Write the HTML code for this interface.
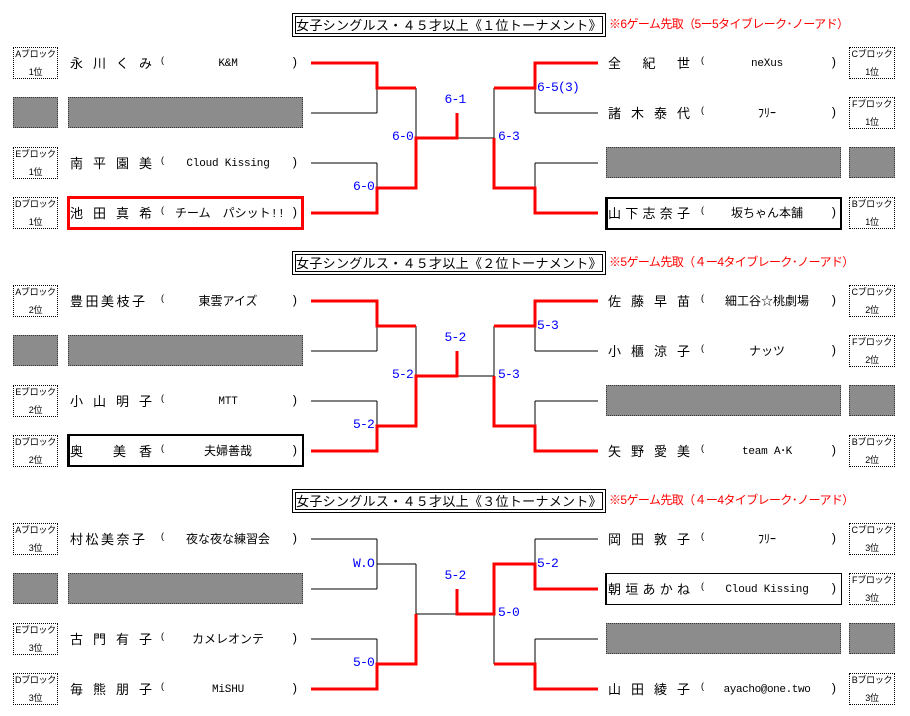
<!DOCTYPE html>
<html><head><meta charset="utf-8">
<style>
*{box-sizing:border-box;margin:0;padding:0}
html,body{width:910px;height:716px;background:#fff;overflow:hidden}
body{position:relative;font-family:"Liberation Sans","Noto Sans CJK JP",sans-serif;color:#000}
.sec{position:absolute;left:0;width:910px;height:240px}
.sec svg{position:absolute;left:0;top:0;overflow:visible}
.title{position:absolute;left:292px;top:13px;width:314px;height:24px;border:1px solid #000;box-shadow:inset 0 0 0 2px #fff,inset 0 0 0 3px #000;text-align:center;font-size:13px;line-height:22px;letter-spacing:0.3px;font-family:"Noto Sans CJK JP",sans-serif;white-space:nowrap}
.note{position:absolute;left:609px;top:16px;font-size:12px;line-height:16px;color:#ff0000;letter-spacing:-0.6px;white-space:nowrap;font-family:"Liberation Sans","Noto Sans CJK JP",sans-serif}
.bl{position:absolute;width:45px;height:32px;border:1px dotted #000;font-size:9px;text-align:center;white-space:nowrap;letter-spacing:-0.3px}
.bl span{display:block;height:18px;line-height:18px}
.bl span:first-child{margin-top:-3px}
.gy{position:absolute;background:#8c8c8c;border:1px dotted #333;height:31px}
.nm{position:absolute;display:flex;justify-content:space-between;height:16px;line-height:16px;font-size:13px;font-family:"Noto Sans CJK JP",sans-serif}
.L{left:70px;width:82px}
.L5{left:70px;width:75px}
.R{left:608px;width:82px}
.tm{position:absolute;text-align:center;height:16px;line-height:16px;margin-top:1px;font-size:12px;white-space:nowrap;font-family:"Liberation Mono","Noto Sans CJK JP",monospace}
.TL{left:165px;width:126px}
.TR{left:705px;width:124px}
.lat{font-size:11px;letter-spacing:-0.2px}
.po,.pc{position:absolute;height:16px;line-height:16px;font-family:"Liberation Mono",monospace}
.po{font-size:9px;margin-top:-2px}
.pc{font-size:12px}
.sc{position:absolute;color:#0000ff;font-family:"Liberation Mono",monospace;font-size:13px;letter-spacing:-0.8px;line-height:14px;height:14px;white-space:nowrap}
.ctr{width:60px;text-align:center}
.bx{position:absolute}
</style></head><body>

<!-- ============ SECTION 1 ============ -->
<div class="sec" style="top:0px">
<svg width="910" height="240" viewBox="0 0 910 240">
<path d="M311 63H377M311 113H377M311 163H377M311 213H377M377 63V113M377 163V213M377 88H416M377 188H416M416 88V188M416 138H494M494 88V188M494 88H535M494 188H535M535 63V113M535 163V213M535 63H598M535 113H598M535 163H598M535 213H598" stroke="#000" stroke-width="1" fill="none" shape-rendering="crispEdges"/>
<path d="M311 63H377V88H416M311 213H377V188H416V138H457V113M598 63H535V88H494M598 213H535V188H494V138" stroke="#ff0000" stroke-width="3" fill="none" shape-rendering="crispEdges"/>
</svg>
<div class="title">女子シングルス・４５才以上《１位トーナメント》</div>
<div class="note">※6ゲーム先取（5ー5タイブレーク･ノーアド）</div>

<div class="bl" style="left:13px;top:47px"><span>Aブロック</span><span>1位</span></div>
<div class="nm L" style="top:55px"><span>永</span><span>川</span><span>く</span><span>み</span></div>
<div class="po" style="left:160px;top:55px">(</div>
<div class="tm TL lat" style="top:55px">K&amp;M</div>
<div class="pc" style="left:291px;top:55px">)</div>

<div class="gy" style="left:13px;top:97px;width:45px"></div>
<div class="gy" style="left:68px;top:97px;width:235px"></div>

<div class="bl" style="left:13px;top:147px"><span>Eブロック</span><span>1位</span></div>
<div class="nm L" style="top:155px"><span>南</span><span>平</span><span>園</span><span>美</span></div>
<div class="po" style="left:160px;top:155px">(</div>
<div class="tm TL lat" style="top:155px">Cloud Kissing</div>
<div class="pc" style="left:291px;top:155px">)</div>

<div class="bl" style="left:13px;top:197px"><span>Dブロック</span><span>1位</span></div>
<div class="bx" style="left:67px;top:196px;width:237px;height:34px;border:3px solid #ff0000"></div>
<div class="nm L" style="top:205px"><span>池</span><span>田</span><span>真</span><span>希</span></div>
<div class="po" style="left:160px;top:205px">(</div>
<div class="tm" style="left:170px;width:120px;top:205px">チーム　パシット!!</div>
<div class="pc" style="left:291px;top:205px">)</div>

<div class="nm R" style="top:55px"><span>全</span><span>紀</span><span>世</span></div>
<div class="po" style="left:700px;top:55px">(</div>
<div class="tm TR lat" style="top:55px">neXus</div>
<div class="pc" style="left:830px;top:55px">)</div>
<div class="bl" style="left:849px;top:47px;width:46px"><span>Cブロック</span><span>1位</span></div>

<div class="nm R" style="top:105px"><span>諸</span><span>木</span><span>泰</span><span>代</span></div>
<div class="po" style="left:700px;top:105px">(</div>
<div class="tm TR" style="top:105px">ﾌﾘｰ</div>
<div class="pc" style="left:830px;top:105px">)</div>
<div class="bl" style="left:849px;top:97px;width:46px"><span>Fブロック</span><span>1位</span></div>

<div class="gy" style="left:606px;top:147px;width:235px"></div>
<div class="gy" style="left:849px;top:147px;width:46px"></div>

<div class="bx" style="left:605px;top:197px;width:237px;height:33px;border:2px solid #000;border-left-width:3px"></div>
<div class="nm R" style="top:205px"><span>山</span><span>下</span><span>志</span><span>奈</span><span>子</span></div>
<div class="po" style="left:700px;top:205px">(</div>
<div class="tm TR" style="top:205px">坂ちゃん本舗</div>
<div class="pc" style="left:830px;top:205px">)</div>
<div class="bl" style="left:849px;top:197px;width:46px"><span>Bブロック</span><span>1位</span></div>

<div class="sc ctr" style="left:425px;top:93px">6-1</div>
<div class="sc" style="right:497px;top:130px">6-0</div>
<div class="sc" style="right:536px;top:180px">6-0</div>
<div class="sc" style="left:537px;top:81px">6-5(3)</div>
<div class="sc" style="left:498px;top:130px">6-3</div>
</div>

<!-- ============ SECTION 2 ============ -->
<div class="sec" style="top:238px">
<svg width="910" height="240" viewBox="0 0 910 240">
<path d="M311 63H377M311 113H377M311 163H377M311 213H377M377 63V113M377 163V213M377 88H416M377 188H416M416 88V188M416 138H494M494 88V188M494 88H535M494 188H535M535 63V113M535 163V213M535 63H598M535 113H598M535 163H598M535 213H598" stroke="#000" stroke-width="1" fill="none" shape-rendering="crispEdges"/>
<path d="M311 63H377V88H416M311 213H377V188H416V138H457V113M598 63H535V88H494M598 213H535V188H494V138" stroke="#ff0000" stroke-width="3" fill="none" shape-rendering="crispEdges"/>
</svg>
<div class="title">女子シングルス・４５才以上《２位トーナメント》</div>
<div class="note">※5ゲーム先取（４ー4タイブレーク･ノーアド）</div>

<div class="bl" style="left:13px;top:47px"><span>Aブロック</span><span>2位</span></div>
<div class="nm L5" style="top:55px"><span>豊</span><span>田</span><span>美</span><span>枝</span><span>子</span></div>
<div class="po" style="left:160px;top:55px">(</div>
<div class="tm TL" style="top:55px">東雲アイズ</div>
<div class="pc" style="left:291px;top:55px">)</div>

<div class="gy" style="left:13px;top:97px;width:45px"></div>
<div class="gy" style="left:68px;top:97px;width:235px"></div>

<div class="bl" style="left:13px;top:147px"><span>Eブロック</span><span>2位</span></div>
<div class="nm L" style="top:155px"><span>小</span><span>山</span><span>明</span><span>子</span></div>
<div class="po" style="left:160px;top:155px">(</div>
<div class="tm TL lat" style="top:155px">MTT</div>
<div class="pc" style="left:291px;top:155px">)</div>

<div class="bl" style="left:13px;top:197px"><span>Dブロック</span><span>2位</span></div>
<div class="bx" style="left:67px;top:196px;width:237px;height:33px;border:2px solid #000;border-left-width:3px"></div>
<div class="nm L" style="top:205px"><span>奥</span><span style="margin-left:17px">美</span><span>香</span></div>
<div class="po" style="left:160px;top:205px">(</div>
<div class="tm TL" style="top:205px">夫婦善哉</div>
<div class="pc" style="left:291px;top:205px">)</div>

<div class="nm R" style="top:55px"><span>佐</span><span>藤</span><span>早</span><span>苗</span></div>
<div class="po" style="left:700px;top:55px">(</div>
<div class="tm TR" style="top:55px">細工谷☆桃劇場</div>
<div class="pc" style="left:830px;top:55px">)</div>
<div class="bl" style="left:849px;top:47px;width:46px"><span>Cブロック</span><span>2位</span></div>

<div class="nm R" style="top:105px"><span>小</span><span>櫃</span><span>涼</span><span>子</span></div>
<div class="po" style="left:700px;top:105px">(</div>
<div class="tm TR" style="top:105px">ナッツ</div>
<div class="pc" style="left:830px;top:105px">)</div>
<div class="bl" style="left:849px;top:97px;width:46px"><span>Fブロック</span><span>2位</span></div>

<div class="gy" style="left:606px;top:147px;width:235px"></div>
<div class="gy" style="left:849px;top:147px;width:46px"></div>

<div class="nm R" style="top:205px"><span>矢</span><span>野</span><span>愛</span><span>美</span></div>
<div class="po" style="left:700px;top:205px">(</div>
<div class="tm TR lat" style="top:205px">team A･K</div>
<div class="pc" style="left:830px;top:205px">)</div>
<div class="bl" style="left:849px;top:197px;width:46px"><span>Bブロック</span><span>2位</span></div>

<div class="sc ctr" style="left:425px;top:93px">5-2</div>
<div class="sc" style="right:497px;top:130px">5-2</div>
<div class="sc" style="right:536px;top:180px">5-2</div>
<div class="sc" style="left:537px;top:81px">5-3</div>
<div class="sc" style="left:498px;top:130px">5-3</div>
</div>

<!-- ============ SECTION 3 ============ -->
<div class="sec" style="top:476px">
<svg width="910" height="240" viewBox="0 0 910 240">
<path d="M311 63H377M311 113H377M311 163H377M311 213H377M377 63V113M377 163V213M377 88H416M377 188H416M416 88V188M416 138H494M494 88V188M494 88H535M494 188H535M535 63V113M535 163V213M535 63H598M535 113H598M535 163H598M535 213H598" stroke="#000" stroke-width="1" fill="none" shape-rendering="crispEdges"/>
<path d="M311 213H377V188H416V138M457 113V138H494V88H535V113H598M598 213H535V188H494" stroke="#ff0000" stroke-width="3" fill="none" shape-rendering="crispEdges"/>
</svg>
<div class="title">女子シングルス・４５才以上《３位トーナメント》</div>
<div class="note">※5ゲーム先取（４ー4タイブレーク･ノーアド）</div>

<div class="bl" style="left:13px;top:47px"><span>Aブロック</span><span>3位</span></div>
<div class="nm L5" style="top:55px"><span>村</span><span>松</span><span>美</span><span>奈</span><span>子</span></div>
<div class="po" style="left:160px;top:55px">(</div>
<div class="tm TL" style="top:55px">夜な夜な練習会</div>
<div class="pc" style="left:291px;top:55px">)</div>

<div class="gy" style="left:13px;top:97px;width:45px"></div>
<div class="gy" style="left:68px;top:97px;width:235px"></div>

<div class="bl" style="left:13px;top:147px"><span>Eブロック</span><span>3位</span></div>
<div class="nm L" style="top:155px"><span>古</span><span>門</span><span>有</span><span>子</span></div>
<div class="po" style="left:160px;top:155px">(</div>
<div class="tm TL" style="top:155px">カメレオンテ</div>
<div class="pc" style="left:291px;top:155px">)</div>

<div class="bl" style="left:13px;top:197px"><span>Dブロック</span><span>3位</span></div>
<div class="nm L" style="top:205px"><span>毎</span><span>熊</span><span>朋</span><span>子</span></div>
<div class="po" style="left:160px;top:205px">(</div>
<div class="tm TL lat" style="top:205px">MiSHU</div>
<div class="pc" style="left:291px;top:205px">)</div>

<div class="nm R" style="top:55px"><span>岡</span><span>田</span><span>敦</span><span>子</span></div>
<div class="po" style="left:700px;top:55px">(</div>
<div class="tm TR" style="top:55px">ﾌﾘｰ</div>
<div class="pc" style="left:830px;top:55px">)</div>
<div class="bl" style="left:849px;top:47px;width:46px"><span>Cブロック</span><span>3位</span></div>

<div class="bx" style="left:605px;top:97px;width:237px;height:32px;border:1px solid #000;border-left-width:2px"></div>
<div class="nm R" style="top:105px"><span>朝</span><span>垣</span><span>あ</span><span>か</span><span>ね</span></div>
<div class="po" style="left:700px;top:105px">(</div>
<div class="tm TR lat" style="top:105px">Cloud Kissing</div>
<div class="pc" style="left:830px;top:105px">)</div>
<div class="bl" style="left:849px;top:97px;width:46px"><span>Fブロック</span><span>3位</span></div>

<div class="gy" style="left:606px;top:147px;width:235px"></div>
<div class="gy" style="left:849px;top:147px;width:46px"></div>

<div class="nm R" style="top:205px"><span>山</span><span>田</span><span>綾</span><span>子</span></div>
<div class="po" style="left:700px;top:205px">(</div>
<div class="tm TR lat" style="top:205px;letter-spacing:-0.4px">ayacho@one.two</div>
<div class="pc" style="left:830px;top:205px">)</div>
<div class="bl" style="left:849px;top:197px;width:46px"><span>Bブロック</span><span>3位</span></div>

<div class="sc ctr" style="left:425px;top:93px">5-2</div>
<div class="sc" style="right:536px;top:81px">W.O</div>
<div class="sc" style="right:536px;top:180px">5-0</div>
<div class="sc" style="left:537px;top:81px">5-2</div>
<div class="sc" style="left:498px;top:130px">5-0</div>
</div>

</body></html>
